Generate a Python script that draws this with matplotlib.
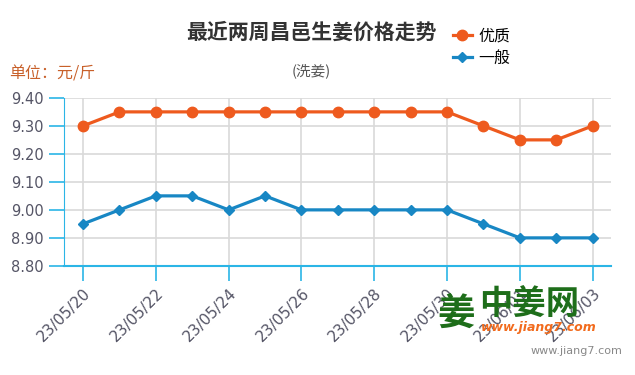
import matplotlib
matplotlib.use('Agg')
import matplotlib.pyplot as plt

plt.rcParams['font.family'] = ['Noto Sans CJK SC', 'DejaVu Sans']

dates = ['23/05/20', '23/05/21', '23/05/22', '23/05/23', '23/05/24', '23/05/25',
         '23/05/26', '23/05/27', '23/05/28', '23/05/29', '23/05/30', '23/05/31',
         '23/06/01', '23/06/02', '23/06/03']
youzhi = [9.30, 9.35, 9.35, 9.35, 9.35, 9.35, 9.35, 9.35, 9.35, 9.35, 9.35,
          9.30, 9.25, 9.25, 9.30]
yiban = [8.95, 9.00, 9.05, 9.05, 9.00, 9.05, 9.00, 9.00, 9.00, 9.00, 9.00,
         8.95, 8.90, 8.90, 8.90]
yticks = [8.80, 8.90, 9.00, 9.10, 9.20, 9.30, 9.40]

orange = '#ee5a1e'
blue = '#1887c4'
axis_blue = '#2bb5e6'
grey_txt = '#555566'

fig = plt.figure(figsize=(6.35, 3.75), dpi=100)
ax = fig.add_axes([0.101, 0.291, 0.861, 0.448])

x = list(range(len(dates)))
ax.plot(x, youzhi, color=orange, lw=2.3, marker='o', ms=7.5, label='优质', zorder=3)
ax.plot(x, yiban, color=blue, lw=2.3, marker='D', ms=5.5, label='一般', zorder=3)

ax.set_xlim(-0.52, 14.5)
ax.set_ylim(8.80, 9.40)
ax.set_yticks(yticks)
ax.set_yticklabels(['%.2f' % v for v in yticks], fontsize=10.5, color=grey_txt,
                   family='DejaVu Sans')
ax.set_xticks(x[::2])
ax.set_xticklabels(dates[::2], rotation=45, ha='right', rotation_mode='anchor',
                   fontsize=11, color=grey_txt, family='DejaVu Sans')

ax.grid(True, color='#d9d9d9', lw=1.2)
ax.set_axisbelow(True)
for s in ['top', 'right']:
    ax.spines[s].set_visible(False)
ax.spines['left'].set_color(axis_blue)
ax.spines['bottom'].set_color(axis_blue)
ax.spines['bottom'].set_linewidth(1.5)
ax.tick_params(axis='both', colors=axis_blue, length=11, width=1.2,
               labelcolor=grey_txt)
ax.tick_params(axis='x', pad=3)

fig.text(0.49, 0.913, '最近两周昌邑生姜价格走势', fontsize=15, fontweight='bold',
         color='#333333', ha='center', va='center')
fig.text(0.49, 0.812, '(洗姜)', fontsize=10.5, color='#555555', ha='center', va='center')
fig.text(0.015, 0.802, '单位：元/斤', fontsize=11.5, color='#c8602a', ha='left', va='center')

leg = fig.legend(loc='upper left', bbox_to_anchor=(0.69, 0.965), frameon=False,
                 fontsize=11.5, handlelength=1.2, handletextpad=0.4, labelspacing=0.35)

# watermark
fig.text(0.688, 0.165, '姜', fontsize=27, fontweight='bold', color='#1e6e1a',
         ha='left', va='center')
fig.text(0.755, 0.187, '中姜网', fontsize=24, fontweight='bold', color='#1e6e1a',
         ha='left', va='center')
fig.text(0.757, 0.128, 'www.jiang7.com', fontsize=9, fontweight='bold',
         color='#f26b1d', style='italic', ha='left', va='center', family='DejaVu Sans')
fig.text(0.98, 0.063, 'www.jiang7.com', fontsize=8, color='#888888',
         ha='right', va='center', family='DejaVu Sans')

fig.savefig('out.png', dpi=100)
